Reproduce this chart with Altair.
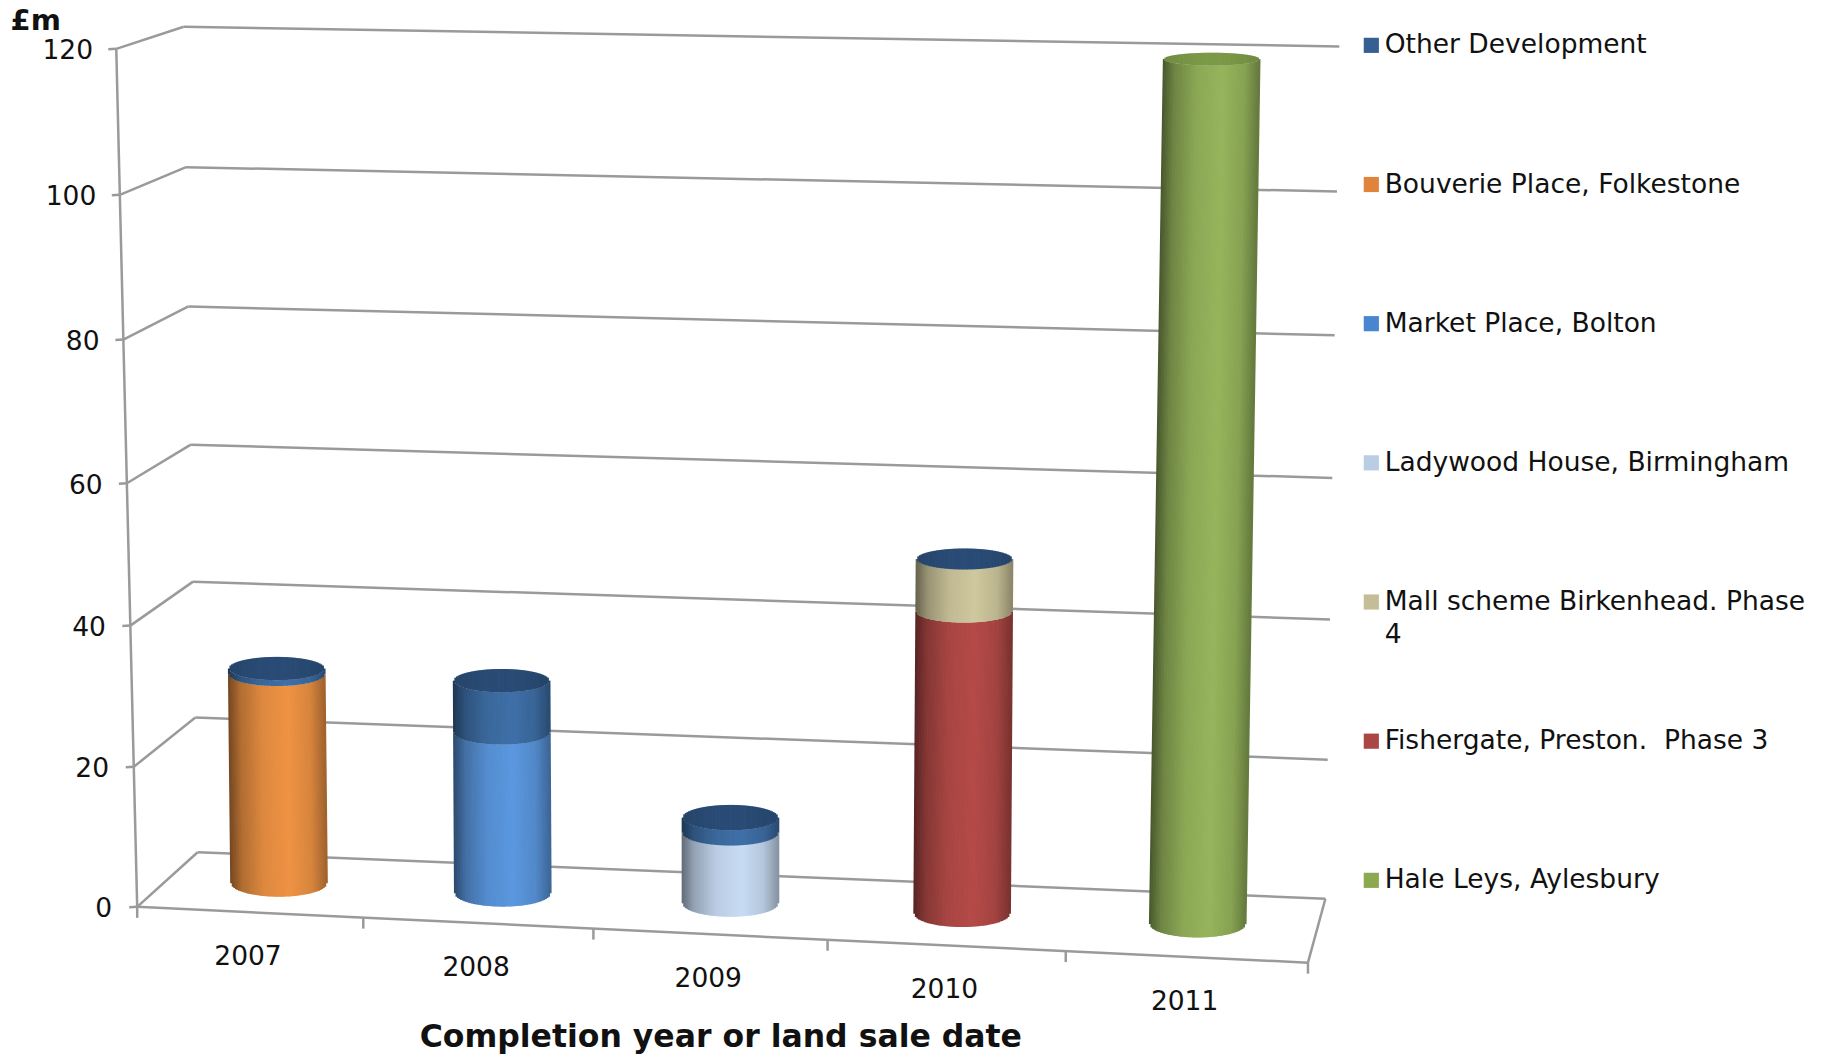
import altair as alt
import numpy as np
import pandas as pd

# ---- chart values (£m by completion year, bottom of the stack first) ----
YEARS = [2007, 2008, 2009, 2010, 2011]
HALE_LEYS = [None, None, None, None, 120]
FISHERGATE = [None, None, None, 41.9, None]
MALL_SCHEME = [None, None, None, 7.3, None]
LADYWOOD = [None, None, 9.8, None, None]
MARKET_PLACE = [None, 22.3, None, None, None]
BOUVERIE = [29.0, None, None, None, None]
OTHER = [0.8, 7.2, 2.1, 0.0, None]

VALUE_TICKS = [0, 20, 40, 60, 80, 100, 120]

# lines of the legend label, values, side colour at its brightest, key colour, cap colour
SERIES = [
    (["Hale Leys, Aylesbury"], HALE_LEYS, "#96B55C", "#8CA94F", "#7C9A48"),
    (["Fishergate, Preston.\u00a0 Phase 3"], FISHERGATE, "#B54B48", "#AA4643", "#A03F3C"),
    (["Mall scheme Birkenhead. Phase", "4"], MALL_SCHEME, "#D0C89E", "#C4BD97", "#B5AE88"),
    (["Ladywood House, Birmingham"], LADYWOOD, "#C8DCF4", "#B9CDE5", "#A8BCD4"),
    (["Market Place, Bolton"], MARKET_PLACE, "#5B98E0", "#4A86CF", "#4A7AB5"),
    (["Bouverie Place, Folkestone"], BOUVERIE, "#EF9344", "#E0843C", "#C97530"),
    (["Other Development"], OTHER, "#3F70A8", "#376092", "#2A4C76"),
]

AXIS_TITLE_Y = "£m"
AXIS_TITLE_X = "Completion year or land sale date"

# ---- layout of the oblique scene, in px of the 1823 x 1055 canvas ----
W, H = 1823, 1055
K = W / 1568
PX_PER_YEAR = 234.2
PX_PER_M = 7.15
X_ZERO_PX, Y_ZERO_PX = 137.0, 907.0
FONT = "DejaVu Sans"
LINE = "#9a9a9a"
TEXT = "#111111"

# floor and top corners of the box: (front-left, back-left, back-right, front-right)
FLOOR = np.array([(118, 780), (170, 733), (1140, 773), (1125, 828)], float) * K
TOP = np.array([(100, 42), (158, 23), (1152, 40), (1140, 82)], float) * K


def to_year(px):
    return 2006.5 + (px - X_ZERO_PX) / PX_PER_YEAR


def to_money(py):
    return (Y_ZERO_PX - py) / PX_PER_M


def bow(t):
    """Category slots widen slightly towards the viewer on the right."""
    return t + 0.043 * t * (t - 1)


def corner_mix(c, t, d):
    front = c[0] + (c[3] - c[0]) * t
    back = c[1] + (c[2] - c[1]) * t
    return front + (back - front) * d


def project(t, value, d):
    f = value / 120
    f = f - 0.025 * f * (1 - f)
    low = corner_mix(FLOOR, t, d)
    high = corner_mix(TOP, t, d)
    return low + (high - low) * f


x_scale = alt.Scale(domain=[to_year(0), to_year(W)], range=[0, W], nice=False, zero=False)
y_scale = alt.Scale(domain=[to_money(H), to_money(0)], range=[H, 0], nice=False, zero=False)


def segment(rows, a, b, color="#000"):
    rows.append(dict(x=to_year(a[0]), x2=to_year(b[0]), y=to_money(a[1]), y2=to_money(b[1]), color=color))


def rules(rows, width):
    return (
        alt.Chart(pd.DataFrame(rows))
        .mark_rule(strokeWidth=width)
        .encode(
            x=alt.X("x:Q", scale=x_scale, axis=None),
            x2="x2:Q",
            y=alt.Y("y:Q", scale=y_scale, axis=None),
            y2="y2:Q",
            color=alt.Color("color:N", scale=None, legend=None),
        )
    )


# ---- wall grid, side lines, floor outline and ticks ----
frame = []
for v in VALUE_TICKS:
    fl = project(0, v, 0)
    bl = project(0, v, 1)
    br = project(1, v, 1)
    segment(frame, fl, bl, LINE)
    segment(frame, bl, br, LINE)
    segment(frame, fl + np.array([-8, 0.5]), fl, LINE)
segment(frame, project(0, 0, 0), project(0, 120, 0), LINE)
segment(frame, project(0, 0, 0), project(1, 0, 0), LINE)
segment(frame, project(1, 0, 0), project(1, 0, 1), LINE)
for i in range(len(YEARS) + 1):
    t = bow(i / len(YEARS))
    p = project(t, 0, 0)
    segment(frame, p, p + np.array([0, 11]), LINE)

# ---- cylinders: narrow vertical strips shaded around the curve ----
STRIPS = 62
SHADE_AT = [0.0, 0.12, 0.35, 0.62, 0.85, 1.0]
SHADE = [0.50, 0.74, 0.93, 1.0, 0.90, 0.68]
HALF_W = 41 * K
LEAN_PER_120 = [-8, -4, 0, 5, 12]
M_PX = 6.2 * K
BASE_DEPTH = 0.52


def ellipse_h(v):
    return max(5.5, 11.5 - 0.05 * v) * K


def shaded(hexcol, s):
    f = np.interp(s, SHADE_AT, SHADE)
    rgb = [int(hexcol[i:i + 2], 16) for i in (1, 3, 5)]
    return "#%02x%02x%02x" % tuple(int(c * f) for c in rgb)


cyl = []
for i, year in enumerate(YEARS):
    t = bow((i + 0.5) / len(YEARS))
    base = project(t, 0, BASE_DEPTH)
    lean = LEAN_PER_120[i] * K
    stack = 0.0
    cap_color = None
    for _, values, side, _, cap in SERIES:
        v = values[i]
        if v is None:
            continue
        for s in np.linspace(0, 1, STRIPS):
            off = np.sqrt(max(0.0, 1 - (2 * s - 1) ** 2))
            px0 = base[0] + (s - 0.5) * 2 * HALF_W + lean * stack / 120
            px1 = base[0] + (s - 0.5) * 2 * HALF_W + lean * (stack + v) / 120
            py0 = base[1] - stack * M_PX + off * ellipse_h(stack)
            py1 = base[1] - (stack + v) * M_PX + off * ellipse_h(stack + v)
            segment(cyl, (px0, py0), (px1, py1), shaded(side, s))
        stack += v
        cap_color = cap
    for s in np.linspace(0, 1, STRIPS):
        off = np.sqrt(max(0.0, 1 - (2 * s - 1) ** 2))
        px = base[0] + (s - 0.5) * 2 * HALF_W + lean * stack / 120
        py = base[1] - stack * M_PX
        tint = 0.9 + 0.1 * np.sin(np.pi * s)
        c = "#%02x%02x%02x" % tuple(int(int(cap_color[j:j + 2], 16) * tint) for j in (1, 3, 5))
        segment(cyl, (px, py - off * ellipse_h(stack)), (px, py + off * ellipse_h(stack)), c)


def text_layer(rows, size, align="left", weight="normal"):
    return (
        alt.Chart(pd.DataFrame(rows))
        .mark_text(font=FONT, fontSize=size, align=align, baseline="middle", color=TEXT, fontWeight=weight)
        .encode(
            x=alt.X("x:Q", scale=x_scale, axis=None),
            y=alt.Y("y:Q", scale=y_scale, axis=None),
            text="label:N",
        )
    )


# ---- value and year labels ----
value_labels = []
for v in VALUE_TICKS:
    p = project(0, v, 0)
    value_labels.append(dict(x=to_year(p[0] - (21.5 - 1.5 * v / 120) * K), y=to_money(p[1] + 2 * K), label=str(v)))

year_labels = []
for i, year in enumerate(YEARS):
    t = bow((i + 0.5) / len(YEARS))
    p = project(t, 0, 0)
    year_labels.append(dict(x=to_year(p[0] - 1.5 * K), y=to_money(p[1] + 38.5 * K), label=str(year)))

titles_b = [dict(x=to_year(620 * K), y=to_money(893 * K), label=AXIS_TITLE_X)]
titles_l = [dict(x=to_year(9 * K), y=to_money(18 * K), label=AXIS_TITLE_Y)]

# ---- key, top row is the last series ----
LEGEND_TOP = 39 * K
LEGEND_STEP = 119.7 * K
LINE_STEP = 28 * K
key_rows, key_text = [], []
for row, (lines, _, _, key, _) in enumerate(reversed(SERIES)):
    y = LEGEND_TOP + row * LEGEND_STEP
    key_rows.append(dict(x=to_year(1179.5 * K), y=to_money(y), color=key))
    for n, line in enumerate(lines):
        key_text.append(dict(x=to_year(1191 * K), y=to_money(y + n * LINE_STEP), label=line))

keys = (
    alt.Chart(pd.DataFrame(key_rows))
    .mark_square(size=230, opacity=1)
    .encode(
        x=alt.X("x:Q", scale=x_scale, axis=None),
        y=alt.Y("y:Q", scale=y_scale, axis=None),
        color=alt.Color("color:N", scale=None, legend=None),
    )
)

chart = (
    alt.layer(
        rules(frame, 2.5),
        rules(cyl, 2.3),
        text_layer(value_labels, 26.5, align="right"),
        text_layer(year_labels, 26.5, align="center"),
        text_layer(titles_b, 31.5, align="center", weight="bold"),
        text_layer(titles_l, 29, weight="bold"),
        keys,
        text_layer(key_text, 26.5),
    )
    .properties(width=W, height=H, padding=0, background="white")
    .configure_view(stroke=None)
)

chart.save("out.html", embed_options={"renderer": "svg", "actions": False})
